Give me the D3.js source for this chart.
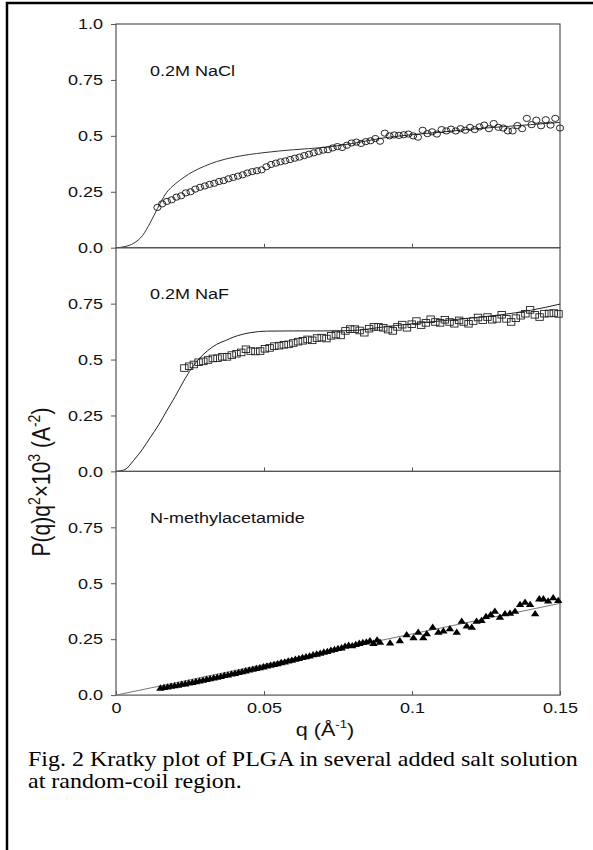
<!DOCTYPE html>
<html>
<head>
<meta charset="utf-8">
<style>
    body { margin: 0; background: #fff; }
    svg { display: block; }
    .tick text { font-family: 'Liberation Sans', Arial, sans-serif; font-size: 15px; fill: #111; }
    .label { font-family: 'Liberation Sans', Arial, sans-serif; fill: #111; }
    .caption { font-family: 'Liberation Serif', 'Times New Roman', serif; font-size: 20px; fill: #000; }
</style>
</head>
<body>
<svg width="593" height="850"></svg>
<script src="https://d3js.org/d3.v7.min.js"></script>
<script>
// panel titles
let panelNames = ["0.2M NaCl", "0.2M NaF", "N-methylacetamide"];

let nacl = [
    [.0140,.180],[.0156,.196],[.0172,.207],[.0188,.214],[.0204,.226],[.0220,.232],[.0236,.245],[.0252,.250],
    [.0268,.262],[.0284,.270],[.0300,.276],[.0316,.283],[.0332,.288],[.0348,.296],[.0364,.300],[.0380,.308],
    [.0396,.314],[.0412,.320],[.0428,.326],[.0444,.334],[.0460,.340],[.0476,.344],[.0492,.348],[.0508,.362],
    [.0524,.372],[.0540,.378],[.0556,.384],[.0572,.388],[.0588,.394],[.0604,.400],[.0620,.405],[.0636,.412],
    [.0652,.418],[.0668,.424],[.0684,.430],[.0700,.436],[.0716,.438],[.0732,.446],[.0748,.452],[.0764,.448],
    [.0780,.458],[.0796,.468],[.0812,.472],[.0828,.466],[.0844,.474],[.0860,.478],[.0876,.488],[.0892,.476],
    [.0908,.512],[.0924,.500],[.0940,.504],[.0956,.502],[.0972,.505],[.0988,.508],[.1004,.500],[.1020,.494],
    [.1036,.525],[.1052,.510],[.1068,.518],[.1084,.508],[.1100,.528],[.1116,.522],[.1132,.530],[.1148,.522],
    [.1164,.532],[.1180,.525],[.1196,.538],[.1212,.528],[.1228,.540],[.1244,.548],[.1260,.532],[.1276,.555],
    [.1292,.538],[.1308,.535],[.1324,.522],[.1340,.522],[.1356,.546],[.1372,.532],[.1388,.578],[.1404,.550],
    [.1420,.570],[.1436,.545],[.1452,.572],[.1468,.548],[.1484,.578],[.1500,.535]
];
let naf = [
    [.0231,.462],[.0247,.470],[.0263,.478],[.0279,.488],[.0295,.492],[.0311,.498],[.0327,.505],[.0343,.506],
    [.0359,.512],[.0375,.512],[.0391,.520],[.0407,.526],[.0423,.532],[.0439,.546],[.0455,.538],[.0471,.536],
    [.0487,.538],[.0503,.548],[.0519,.552],[.0535,.560],[.0551,.562],[.0567,.566],[.0583,.568],[.0599,.574],
    [.0615,.580],[.0631,.584],[.0647,.590],[.0663,.586],[.0679,.596],[.0695,.598],[.0711,.594],[.0727,.606],
    [.0743,.612],[.0759,.608],[.0775,.628],[.0791,.636],[.0807,.636],[.0823,.630],[.0839,.620],[.0855,.638],
    [.0871,.646],[.0887,.646],[.0903,.642],[.0919,.634],[.0935,.628],[.0951,.646],[.0967,.656],[.0983,.642],
    [.0999,.658],[.1015,.672],[.1031,.654],[.1047,.664],[.1063,.680],[.1079,.668],[.1095,.664],[.1111,.678],
    [.1127,.668],[.1143,.660],[.1159,.675],[.1175,.668],[.1191,.660],[.1207,.672],[.1223,.688],[.1239,.676],
    [.1255,.690],[.1271,.678],[.1287,.682],[.1303,.700],[.1319,.682],[.1335,.668],[.1351,.685],[.1367,.696],
    [.1383,.705],[.1399,.722],[.1415,.700],[.1431,.690],[.1447,.705],[.1463,.706],[.1479,.708],[.1495,.704]
];
let nma = [
    [.0150,.032],[.0162,.035],[.0174,.037],[.0186,.040],[.0198,.043],[.0210,.045],[.0222,.049],[.0234,.051],
    [.0246,.055],[.0258,.057],[.0270,.061],[.0282,.064],[.0294,.067],[.0306,.071],[.0318,.074],[.0330,.077],
    [.0342,.081],[.0354,.084],[.0366,.088],[.0378,.091],[.0390,.095],[.0402,.098],[.0414,.102],[.0426,.105],
    [.0438,.109],[.0450,.113],[.0462,.116],[.0474,.120],[.0486,.123],[.0498,.127],[.0510,.131],[.0522,.134],
    [.0534,.138],[.0546,.141],[.0558,.146],[.0570,.149],[.0582,.153],[.0594,.157],[.0606,.161],[.0618,.164],
    [.0630,.169],[.0642,.172],[.0654,.176],[.0666,.181],[.0678,.184],[.0690,.188],[.0702,.193],[.0714,.196],
    [.0726,.201],[.0738,.205],[.0750,.209],[.0762,.212],[.0774,.219],[.0786,.223],[.0798,.221],[.0810,.227],
    [.0822,.232],[.0834,.236],[.0846,.238],[.0858,.244],[.0870,.232],[.0882,.247],
    [.0892,.237],[.0926,.234],[.0959,.244],[.0982,.271],[.1005,.257],[.1021,.282],[.1038,.257],[.1050,.275],
    [.1070,.304],[.1089,.282],[.1106,.287],[.1128,.297],[.1151,.282],[.1168,.331],[.1185,.310],[.1202,.304],
    [.1218,.331],[.1235,.334],[.1250,.352],[.1266,.361],[.1280,.376],[.1297,.349],[.1314,.364],[.1331,.367],
    [.1348,.376],[.1365,.406],[.1382,.416],[.1399,.406],[.1416,.364],[.1430,.431],[.1444,.431],[.1460,.421],
    [.1477,.436],[.1494,.424]
];

// model curves
let naclFit = [
    [0,0],[.003,.005],[.006,.02],[.009,.055],[.0115,.11],[.014,.175],[.017,.245],[.020,.285],[.023,.315],
    [.026,.34],[.030,.365],[.034,.385],[.040,.405],[.050,.425],[.060,.438],[.070,.448],[.080,.466],
    [.090,.49],[.100,.505],[.110,.517],[.120,.53],[.130,.54],[.140,.55],[.150,.56]
];
let nafFit = [
    [0,0],[.003,.008],[.006,.05],[.009,.1],[.0115,.15],[.0145,.21],[.0171,.27],[.020,.335],[.0227,.40],
    [.0255,.46],[.0284,.508],[.031,.54],[.034,.568],[.037,.585],[.0396,.60],[.0425,.612],[.0453,.62],
    [.0509,.627],[.060,.628],[.070,.628],[.080,.63],[.090,.645],[.100,.66],[.110,.673],[.120,.686],
    [.130,.70],[.140,.72],[.150,.748]
];
let nmaFit = [[0,0],[.15,.41]];

// axis ticks
let xTicks = [0, 0.05, 0.1, 0.15];
let xTickLabels = ["0", "0.05", "0.1", "0.15"];
let yTicksTop = [0, 0.25, 0.5, 0.75, 1.0];
let yTicks = [0, 0.25, 0.5, 0.75];
let yTickLabels = ["0.0", "0.25", "0.5", "0.75", "1.0"];

let sx = 1.2; // the scanned figure is wider than it is tall
let svg = d3.select("svg");

// outer frame
svg.append("rect")
    .attr("x", 7).attr("y", 3).attr("width", 620).attr("height", 880)
    .attr("fill", "none").attr("stroke", "#000").attr("stroke-width", 2.5);

let x = d3.scaleLinear().domain([0, 0.15]).range([116, 560]);
let ph = 223.7;
let top0 = 24;

let series = [
    { data: nacl, fit: naclFit, mark: "circle", fitColor: "#333" },
    { data: naf, fit: nafFit, mark: "square", fitColor: "#222" },
    { data: nma, fit: nmaFit, mark: "triangle", fitColor: "#777" }
];

series.forEach(function (s, i) {
    let t = top0 + i * ph;
    let y = d3.scaleLinear().domain([0, 1]).range([t + ph, t]);
    let g = svg.append("g").attr("class", "panel");

    // box
    g.append("rect")
        .attr("x", x(0)).attr("y", t)
        .attr("width", x(0.15) - x(0)).attr("height", ph)
        .attr("fill", "none").attr("stroke", "#555").attr("stroke-width", 1.2);

    // y axis
    let ticks = i == 0 ? yTicksTop : yTicks;
    let yAxis = g.append("g")
        .attr("transform", `translate(${x(0)},0)`)
        .call(d3.axisLeft(y).tickValues(ticks).tickSize(5).tickPadding(8)
            .tickFormat((d, k) => yTickLabels[k]));
    yAxis.select(".domain").remove();
    yAxis.selectAll("line").attr("stroke", "#555");
    yAxis.selectAll("text")
        .attr("x", -13 / sx)
        .attr("transform", `scale(${sx},1)`);

    // x axis (inward ticks)
    let last = i == series.length - 1;
    let xAxis = g.append("g")
        .attr("transform", `translate(0,${t + ph})`)
        .call(d3.axisBottom(x).tickValues(last ? xTicks : xTicks.slice(1, 3))
            .tickSize(-4).tickPadding(7)
            .tickFormat((d, k) => last ? xTickLabels[k] : ""));
    xAxis.select(".domain").remove();
    xAxis.selectAll("line").attr("stroke", "#555");
    xAxis.selectAll("text")
        .attr("x", 0)
        .attr("transform", `scale(${sx},1)`);

    // panel name
    g.append("text")
        .attr("class", "label")
        .attr("font-size", 15)
        .attr("transform", `translate(150,${t + 51.5}) scale(${sx},1)`)
        .text(panelNames[i]);

    // fitted curve
    g.append("path")
        .datum(s.fit)
        .attr("fill", "none")
        .attr("stroke", s.fitColor)
        .attr("stroke-width", 1)
        .attr("d", d3.line().x(d => x(d[0])).y(d => y(d[1])).curve(d3.curveMonotoneX));

    // markers
    let pts = g.append("g").selectAll("g")
        .data(s.data)
        .join("g")
        .attr("transform", d => `translate(${x(d[0])},${y(d[1])})`);
    if (s.mark == "circle") {
        pts.append("ellipse").attr("rx", 3.6).attr("ry", 3.1)
            .attr("fill", "none").attr("stroke", "#111").attr("stroke-width", 0.9);
    } else if (s.mark == "square") {
        pts.append("rect").attr("x", -3.7).attr("y", -3.3).attr("width", 7.4).attr("height", 6.6)
            .attr("fill", "none").attr("stroke", "#222").attr("stroke-width", 0.9);
    } else {
        pts.append("path").attr("d", "M0,-3.6L4.2,2.7L-4.2,2.7Z")
            .attr("fill", "#000");
    }
});

// y axis title
let yt = svg.append("text")
    .attr("class", "label")
    .attr("font-size", 21)
    .attr("text-anchor", "middle")
    .attr("transform", `translate(50,482) rotate(-90) scale(1,${sx})`);
yt.append("tspan").text("P(q)q");
yt.append("tspan").attr("font-size", 14).attr("dy", -8).text("2");
yt.append("tspan").attr("dy", 8).text("×10");
yt.append("tspan").attr("font-size", 14).attr("dy", -8).text("3");
yt.append("tspan").attr("dy", 8).text(" (A");
yt.append("tspan").attr("font-size", 14).attr("dy", -8).text("-2");
yt.append("tspan").attr("dy", 8).text(")");

// x axis title
let xt = svg.append("text")
    .attr("class", "label")
    .attr("font-size", 18)
    .attr("text-anchor", "middle")
    .attr("transform", `translate(325,736) scale(${sx},1)`);
xt.append("tspan").text("q (Å");
xt.append("tspan").attr("font-size", 11).attr("dy", -8).text("-1");
xt.append("tspan").attr("dy", 8).text(")");

// caption
let captionLines = [
    "Fig. 2 Kratky plot of PLGA in several added salt solution",
    "at random-coil region."
];
svg.selectAll(".caption")
    .data(captionLines)
    .join("text")
    .attr("class", "caption")
    .attr("transform", (d, k) => `translate(28,${766 + k * 22}) scale(${sx},1)`)
    .text(d => d);
</script>
</body>
</html>
